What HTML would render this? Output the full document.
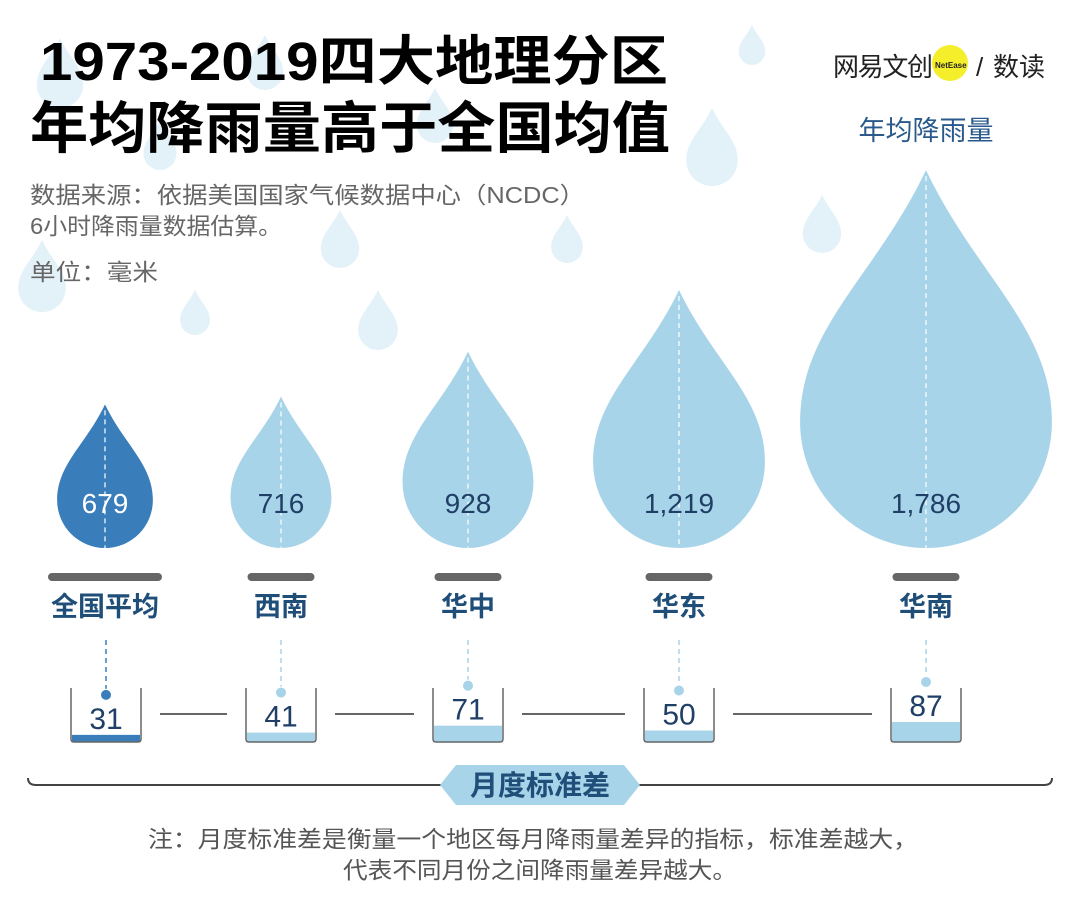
<!DOCTYPE html>
<html><head><meta charset="utf-8">
<style>
body{margin:0;background:#fff;}
svg{display:block;font-family:"Liberation Sans","Noto Sans CJK SC",sans-serif;}
</style></head>
<body>
<svg id="chart" width="1080" height="908" viewBox="0 0 1080 908">
  <g id="bgdrops"></g>
  <text x="40" y="80" font-size="54" font-weight="bold" fill="#000" textLength="628" lengthAdjust="spacingAndGlyphs">1973-2019四大地理分区</text>
  <text x="30" y="148" font-size="56" font-weight="bold" fill="#000" textLength="640" lengthAdjust="spacingAndGlyphs">年均降雨量高于全国均值</text>
  <text x="30" y="203" font-size="23" fill="#666" textLength="555" lengthAdjust="spacingAndGlyphs">数据来源：依据美国国家气候数据中心（NCDC）</text>
  <text x="30" y="234" font-size="23" fill="#666" textLength="252" lengthAdjust="spacingAndGlyphs">6小时降雨量数据估算。</text>
  <text x="30" y="280" font-size="23" fill="#666" textLength="128" lengthAdjust="spacingAndGlyphs">单位：毫米</text>
  <g>
    <circle cx="950" cy="63" r="18" fill="#f5ee2a"/>
    <text x="833" y="76" font-size="26" fill="#222" textLength="100">网易文创</text>
    <text x="935" y="68" font-size="8" font-weight="bold" fill="#222">NetEase</text>
    <text x="976" y="76" font-size="26" fill="#222">/</text>
    <text x="993" y="76" font-size="26" fill="#222">数读</text>
  </g>
  <text x="926" y="140" font-size="27" text-anchor="middle" fill="#2a5a8c">年均降雨量</text>
  <g id="drops"></g>
  <g id="beakers"></g>
  <g>
    <path d="M28,778 Q28,785 36,785 L1044,785 Q1052,785 1052,778" fill="none" stroke="#444" stroke-width="2"/>
    <path d="M440,785 L456,765 L624,765 L640,785 L624,805 L456,805 Z" fill="#a8d4ea"/>
    <text x="540" y="795" font-size="28" font-weight="bold" text-anchor="middle" fill="#1f4e79">月度标准差</text>
  </g>
  <text x="148" y="847" font-size="23" fill="#555" textLength="770" lengthAdjust="spacingAndGlyphs">注：月度标准差是衡量一个地区每月降雨量差异的指标，标准差越大，</text>
  <text x="540" y="878" font-size="23" text-anchor="middle" fill="#555" textLength="394" lengthAdjust="spacingAndGlyphs">代表不同月份之间降雨量差异越大。</text>
</svg>
<script>
const regions = ['全国平均','西南','华中','华东','华南'];
const rainfall = [679,716,928,1219,1786];
const stdDev = [31,41,71,50,87];
const rainLabels = ['679','716','928','1,219','1,786'];
const NS='http://www.w3.org/2000/svg';
const centers=[105,281,468,679,926];
const beakerX=[106,281,468,679,926];
function mk(t,a,p){const e=document.createElementNS(NS,t);for(const k in a)e.setAttribute(k,a[k]);p.appendChild(e);return e;}
function dropPath(cx,bottom,W,H){
  const r=W/2, cy=bottom-r, tip=bottom-H;
  return `M${cx},${tip} C${cx+0.2*W},${tip+0.28*H} ${cx+r},${cy-0.75*r} ${cx+r},${cy} A${r},${r} 0 0 1 ${cx-r},${cy} C${cx-r},${cy-0.75*r} ${cx-0.2*W},${tip+0.28*H} ${cx},${tip} Z`;
}
function hScale(v){return v*0.2116;}
function wScale(v){return v*0.141;}
const bg=[[60,38,70],[265,35,55],[435,88,55],[712,108,78],[752,25,40],[567,215,48],[340,210,58],[195,290,45],[378,290,60],[822,195,58],[42,240,72],[160,120,50]];
const bgG=document.getElementById('bgdrops');
bg.forEach(b=>{const p=mk('path',{d:dropPath(b[0],b[1]+b[2],b[2]*0.66,b[2]),fill:'#e3f1f9'},bgG);

});
const dg=document.getElementById('drops');
const bottom=548;
rainfall.forEach((v,i)=>{
  const cx=centers[i],H=hScale(v),W=wScale(v);
  const p=mk('path',{d:dropPath(cx,bottom,W,H),fill:i===0?'#3a7dbb':'#a8d4ea'},dg);
  
  
  mk('line',{x1:cx,y1:bottom-H+6,x2:cx,y2:bottom,stroke:'#fff','stroke-width':1.2,'stroke-dasharray':'5,4'},dg);
  const t=mk('text',{x:cx,y:513,'font-size':28,'text-anchor':'middle',fill:i===0?'#fff':'#1f3f66'},dg);
  t.textContent=rainLabels[i];
  
  
  const bw=i===0?114:67;
  mk('rect',{x:cx-bw/2,y:573,width:bw,height:8,rx:4,fill:'#666'},dg);
  const l=mk('text',{x:cx,y:616,'font-size':27,'font-weight':'bold','text-anchor':'middle',fill:'#1f4e79'},dg);
  l.textContent=regions[i];
  
  
});
const bk=document.getElementById('beakers');
stdDev.forEach((v,i)=>{
  const cx=beakerX[i],col=i===0?'#3a7dbb':'#a8d4ea';
  const fh=v*0.23;
  const top=688,bot=742;
  mk('rect',{x:cx-34,y:bot-fh,width:68,height:fh,fill:col},bk);
  const b=mk('path',{d:`M${cx-35},${top} L${cx-35},${bot-3} Q${cx-35},${bot} ${cx-32},${bot} L${cx+32},${bot} Q${cx+35},${bot} ${cx+35},${bot-3} L${cx+35},${top}`,fill:'none',stroke:'#666','stroke-width':1.5},bk);
  
  
  const dy=bot-fh-40;
  mk('line',{x1:cx,y1:640,x2:cx,y2:dy-6,stroke:col,'stroke-width':1.5,'stroke-dasharray':'5,4'},bk);
  mk('circle',{cx:cx,cy:dy,r:5,fill:col},bk);
  const t=mk('text',{x:cx,y:bot-fh-6,'font-size':30,'text-anchor':'middle',fill:'#1f3f66'},bk);
  t.textContent=String(v);
  
  
  if(i<stdDev.length-1){
    mk('line',{x1:cx+54,y1:714,x2:beakerX[i+1]-54,y2:714,stroke:'#333','stroke-width':1.5},bk);
  }
});
</script>
</body></html>
